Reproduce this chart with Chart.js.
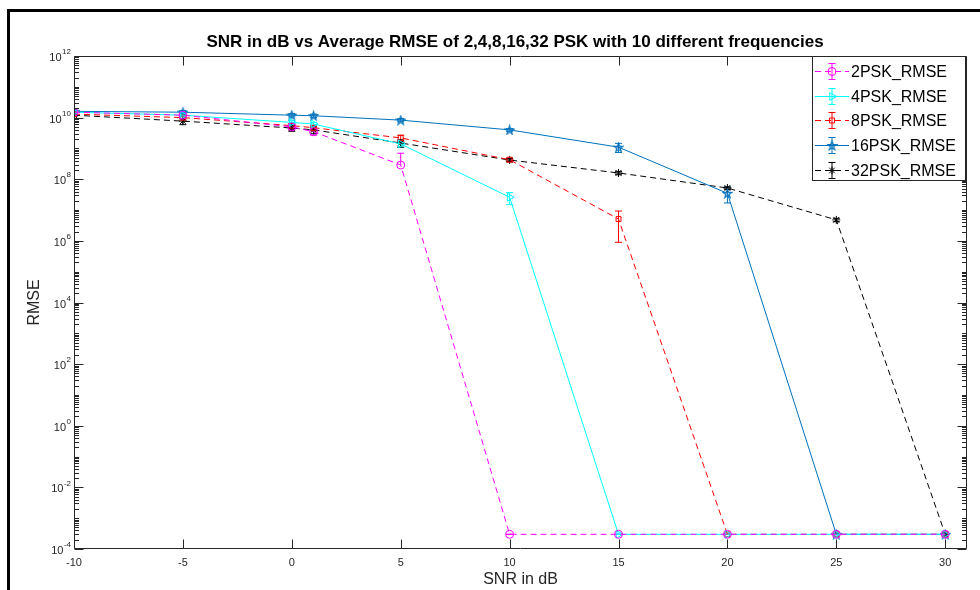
<!DOCTYPE html>
<html><head><meta charset="utf-8">
<script src="https://cdn.jsdelivr.net/npm/chart.js@4.4.0/dist/chart.umd.min.js"></script>
<style>html,body{margin:0;padding:0;background:#fff;overflow:hidden}#wrap{position:relative;width:980px;height:590px}</style>
</head><body><div id="wrap"><canvas id="c" width="980" height="590"></canvas></div>
<script>
// ---------- data ----------
const snrDb = [-10, -5, 0, 1, 5, 10, 15, 20, 25, 30];
const xTickValues = [-10, -5, 0, 5, 10, 15, 20, 25, 30];
const yTickExponents = [12, 10, 8, 6, 4, 2, 0, -2, -4];
const seriesNames = ['2PSK_RMSE', '4PSK_RMSE', '8PSK_RMSE', '16PSK_RMSE', '32PSK_RMSE'];
const psk2 = [1.5e10, 1.2e10, 5.0e9, 3.5e9, 2.9e8, 3e-4, 3e-4, 3e-4, 3e-4, 3e-4];
const psk4 = [1.5e10, 1.2e10, 7.0e9, 6.2e9, 1.4e9, 2.6e7, 3e-4, 3e-4, 3e-4, 3e-4];
const psk8 = [1.3e10, 1.0e10, 5.5e9, 4.7e9, 2.2e9, 4.3e8, 5.1e6, 3e-4, 3e-4, 3e-4];
const psk16 = [1.6e10, 1.5e10, 1.2e10, 1.15e10, 8.3e9, 4.0e9, 1.1e9, 3.5e7, 3e-4, 3e-4];
const psk32 = [1.2e10, 7.7e9, 4.6e9, 4.0e9, 1.5e9, 4.2e8, 1.6e8, 5.2e7, 4.8e6, 3e-4];
const err2 = [2e9, 1e9, 1e9, 8e8, 4.1e8, 0, 0, 0, 0, 0];
const err4 = [1e9, 1e9, 1e9, 8e8, 3e8, 1.1e7, 0, 0, 0, 0];
const err8 = [2e9, 1.5e9, 1e9, 1e9, 5e8, 5e7, 4.2e6, 0, 0, 0];
const err16 = [2e9, 2e9, 1.5e9, 1.5e9, 1e9, 4e8, 3.6e8, 1.8e7, 0, 0];
const err32 = [3e9, 1.8e9, 1e9, 1e9, 4e8, 5e7, 2e7, 5e6, 6e5, 0];

// ---------- styles ----------
function makePentagram(color, size) {
  const c = document.createElement('canvas'); c.width = c.height = size;
  const g = c.getContext('2d'); const cx = size / 2, cy = size / 2 + 0.5, R = size / 2 - 0.8, r = R * 0.40;
  g.beginPath();
  for (let k = 0; k < 10; k++) {
    const a = -Math.PI / 2 + k * Math.PI / 5, rad = k % 2 ? r : R;
    g.lineTo(cx + rad * Math.cos(a), cy + rad * Math.sin(a));
  }
  g.closePath(); g.fillStyle = 'rgba(0,114,189,0.3)'; g.fill();
  g.strokeStyle = color; g.lineWidth = 1.1; g.stroke(); return c;
}
const star = makePentagram('#0072BD', 11);
const styles = [
  {color: '#FF00FF', dash: [6, 4], point: 'circle', radius: 4, rot: 0},
  {color: '#00FFFF', dash: [], point: 'triangle', radius: 4.5, rot: 90},
  {color: '#FF0000', dash: [6, 4], point: 'rect', radius: 3.5, rot: 0},
  {color: '#0072BD', dash: [], point: star, radius: 5, rot: 0},
  {color: '#000000', dash: [6, 4], point: 'star', radius: 4, rot: 0}
];
const values = [psk2, psk4, psk8, psk16, psk32];
const errors = [err2, err4, err8, err16, err32];

const datasets = values.map((vals, k) => ({
  label: seriesNames[k],
  data: snrDb.map((x, i) => ({x: x, y: vals[i]})),
  errors: errors[k],
  borderColor: styles[k].color,
  backgroundColor: 'rgba(0,0,0,0)',
  borderWidth: 1,
  borderDash: styles[k].dash,
  pointStyle: styles[k].point,
  pointRadius: styles[k].radius,
  pointRotation: styles[k].rot,
  pointBorderColor: styles[k].color,
  pointBackgroundColor: 'rgba(0,0,0,0)',
  pointBorderWidth: 1,
  tension: 0,
  fill: false
}));

const FONT = '"Liberation Sans", Arial, Helvetica, sans-serif';
const AXC = '#262626';

const decor = {
  id: 'decor',
  beforeDraw(chart) {
    const ctx = chart.ctx;
    ctx.save();
    ctx.fillStyle = '#fff'; ctx.fillRect(0, 0, chart.width, chart.height);
    ctx.fillStyle = '#000';
    ctx.fillRect(7, 9, 973, 3);
    ctx.fillRect(7, 9, 3, 590);
    ctx.restore();
  },
  beforeDatasetsDraw(chart) {
    const ctx = chart.ctx, xs = chart.scales.x, ys = chart.scales.y, a = chart.chartArea;
    ctx.save();
    ctx.beginPath(); ctx.rect(a.left, a.top, a.right - a.left, a.bottom - a.top); ctx.clip();
    chart.data.datasets.forEach(ds => {
      ctx.strokeStyle = ds.borderColor; ctx.lineWidth = 1; ctx.setLineDash([]);
      ds.data.forEach((p, i) => {
        const e = ds.errors[i];
        const px = xs.getPixelForValue(p.x);
        const yc = ys.getPixelForValue(p.y);
        const yt = ys.getPixelForValue(p.y + e);
        const yb = (p.y - e > 0) ? ys.getPixelForValue(p.y - e) : null;
        ctx.beginPath();
        ctx.moveTo(px, yt); ctx.lineTo(px, yb === null ? yc : yb);
        ctx.moveTo(px - 3.5, yt); ctx.lineTo(px + 3.5, yt);
        if (yb !== null) { ctx.moveTo(px - 3.5, yb); ctx.lineTo(px + 3.5, yb); }
        ctx.stroke();
      });
    });
    ctx.restore();
  },
  afterDraw(chart) {
    const ctx = chart.ctx, xs = chart.scales.x, ys = chart.scales.y, a = chart.chartArea;
    const L = Math.round(a.left) + 0.5, R = Math.round(a.right) - 0.5, T = Math.round(a.top) + 0.5, B = Math.round(a.bottom) - 0.5;
    ctx.save();
    ctx.strokeStyle = AXC; ctx.lineWidth = 1; ctx.setLineDash([]);
    ctx.beginPath();
    ctx.rect(L, T, R - L, B - T);
    xTickValues.forEach(v => {
      const px = Math.round(xs.getPixelForValue(v)) + 0.5;
      ctx.moveTo(px, B); ctx.lineTo(px, B - 9);
      ctx.moveTo(px, T); ctx.lineTo(px, T + 9);
    });
    for (let n = -4; n <= 11; n++) {
      for (let m = 1; m <= 9; m++) {
        const v = m * Math.pow(10, n);
        const py = Math.round(ys.getPixelForValue(v)) + 0.5;
        const len = (m === 1 && n % 2 === 0) ? 9 : 4.5;
        ctx.moveTo(L, py); ctx.lineTo(L + len, py);
        ctx.moveTo(R, py); ctx.lineTo(R - len, py);
      }
    }
    const pTop = Math.round(ys.getPixelForValue(1e12)) + 0.5;
    ctx.moveTo(L, pTop); ctx.lineTo(L + 9, pTop);
    ctx.moveTo(R, pTop); ctx.lineTo(R - 9, pTop);
    ctx.stroke();

    ctx.fillStyle = AXC; ctx.textBaseline = 'middle';
    yTickExponents.forEach(ex => {
      const py = ys.getPixelForValue(Math.pow(10, ex));
      ctx.font = '8px ' + FONT;
      const es = String(ex);
      const ew = ctx.measureText(es).width;
      ctx.textAlign = 'left';
      const right = a.left - 3;
      ctx.fillText(es, right - ew, py - 4);
      ctx.font = '11px ' + FONT;
      ctx.textAlign = 'right';
      ctx.fillText('10', right - ew - 0.5, py + 2);
    });

    ctx.fillStyle = '#000';
    ctx.font = 'bold 17px ' + FONT; ctx.textAlign = 'center';
    ctx.fillText('SNR in dB vs Average RMSE of 2,4,8,16,32 PSK with 10 different frequencies', 515, 42);
    ctx.fillStyle = AXC;
    ctx.font = '16px ' + FONT;
    ctx.fillText('SNR in dB', (a.left + a.right) / 2, 580);
    ctx.save();
    ctx.translate(35, (a.top + a.bottom) / 2); ctx.rotate(-Math.PI / 2);
    ctx.fillText('RMSE', 0, 0);
    ctx.restore();

    const lx = 812.5, ly = T, lw = 153, lh = 124;
    ctx.fillStyle = '#fff'; ctx.fillRect(lx, ly, lw, lh);
    ctx.strokeStyle = AXC; ctx.strokeRect(lx, ly, lw, lh);
    chart.data.datasets.forEach((ds, k) => {
      const y = Math.round(ly + 14.5 + k * 24.7) + 0.5;
      ctx.strokeStyle = ds.borderColor; ctx.lineWidth = 1;
      ctx.setLineDash(ds.borderDash);
      ctx.beginPath(); ctx.moveTo(815, y); ctx.lineTo(849, y); ctx.stroke();
      ctx.setLineDash([]);
      ctx.beginPath();
      ctx.moveTo(832, y - 8); ctx.lineTo(832, y + 8);
      ctx.moveTo(828.5, y - 8); ctx.lineTo(835.5, y - 8);
      ctx.moveTo(828.5, y + 8); ctx.lineTo(835.5, y + 8);
      ctx.stroke();
      ctx.fillStyle = 'rgba(0,0,0,0)';
      Chart.helpers.drawPoint(ctx, {pointStyle: ds.pointStyle, radius: ds.pointRadius, rotation: ds.pointRotation, borderWidth: 1}, 832, y);
      ctx.fillStyle = '#000'; ctx.font = '16px ' + FONT; ctx.textAlign = 'left'; ctx.textBaseline = 'middle';
      ctx.fillText(ds.label, 851, y + 1);
    });
    ctx.restore();
  }
};

new Chart(document.getElementById('c'), {
  type: 'line',
  data: {datasets: datasets},
  options: {
    responsive: false, animation: false, devicePixelRatio: 1,
    layout: {padding: {left: 0, right: 13, top: 56, bottom: 0}},
    plugins: {legend: {display: false}, title: {display: false}, tooltip: {enabled: false}},
    scales: {
      x: {
        type: 'linear', min: -10, max: 31,
        afterBuildTicks: s => { s.ticks = xTickValues.map(v => ({value: v})); },
        afterFit: s => { s.height = 41; },
        grid: {display: false, drawTicks: false}, border: {display: false},
        ticks: {padding: 7, maxRotation: 0, autoSkip: false, color: AXC, font: {size: 11, family: FONT}}
      },
      y: {
        type: 'logarithmic', min: 1e-4, max: 1e12,
        afterFit: s => { s.width = 74; },
        grid: {display: false, drawTicks: false}, border: {display: false},
        ticks: {display: false}
      }
    }
  },
  plugins: [decor]
});
</script></body></html>
